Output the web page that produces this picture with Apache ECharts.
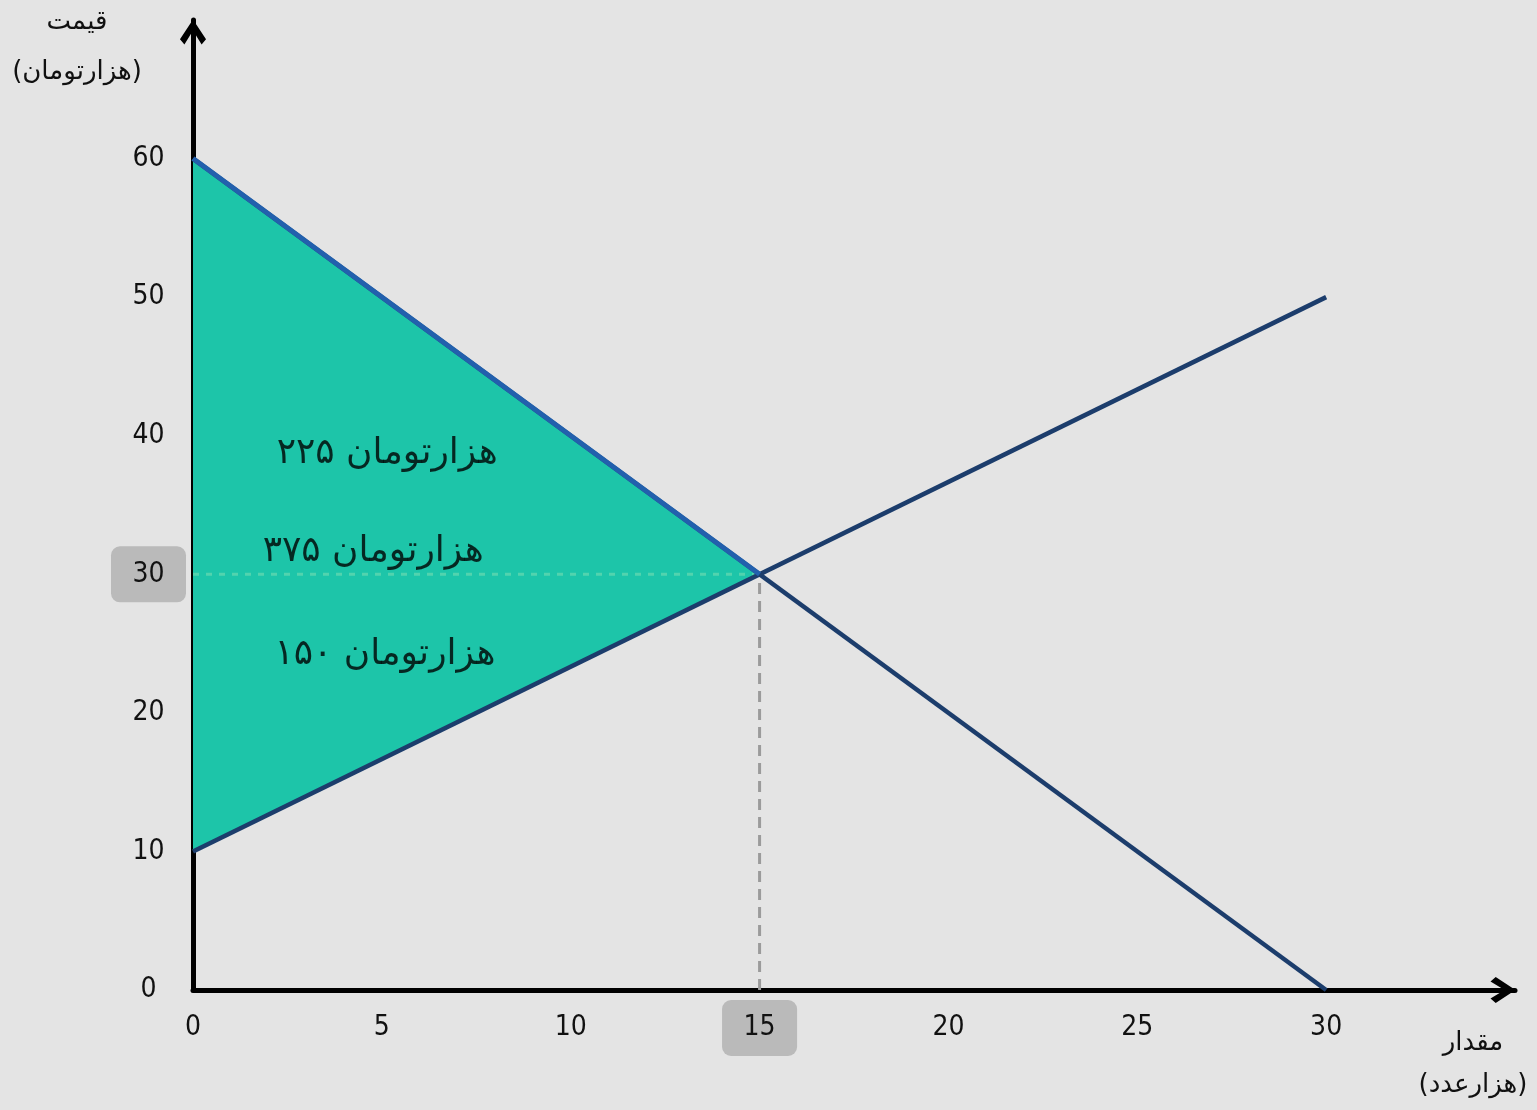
<!DOCTYPE html>
<html>
<head>
<meta charset="utf-8">
<title>مازاد مصرف‌کننده و تولیدکننده</title>
<script src="https://cdn.jsdelivr.net/npm/echarts@6/dist/echarts.min.js"></script>
<style>
  html, body { margin: 0; padding: 0; background: #e4e4e4; }
  #chart { width: 1537px; height: 1110px; }
</style>
</head>
<body>
<div id="chart"></div>
<script>
// داده‌ها
var demandQ = [0, 30];
var demandP = [60, 0];
var supplyQ = [0, 30];
var supplyP = [10, 50];
var eqQ = 15;
var eqP = 30;
// رئوس مثلث مازاد (مصرف‌کننده + تولیدکننده)
var surplusQ = [0, 15, 0];
var surplusP = [60, 30, 10];
// برچسب‌های داخل مثلث
var noteText = ['۲۲۵ هزارتومان', '۳۷۵ هزارتومان', '۱۵۰ هزارتومان'];
var noteQ = [5.14, 4.77, 5.08];
var noteP = [38.7, 31.6, 24.2];
var xTickMax = 30;
var yTickMax = 60;

var numFont = '"Liberation Sans Narrow", "DejaVu Sans Condensed", sans-serif';
var faFont = '"DejaVu Sans", sans-serif';
var chevron = 'path://M50,0 L100,76 L83,96 L50,42 L17,96 L0,76 Z';

function pairs(xs, ys) {
  return xs.map(function (x, i) { return [x, ys[i]]; });
}

function tickRich() {
  var base = { width: 75, height: 56, align: 'center', verticalAlign: 'middle',
    fontSize: 28, fontFamily: numFont, color: '#111' };
  return {
    n: base,
    h: Object.assign({}, base, { backgroundColor: '#bababa', borderRadius: 9 })
  };
}

function axisText(txt, x, y) {
  return { type: 'text', x: x, y: y,
    style: { text: txt, align: 'center', verticalAlign: 'middle', font: '26px ' + faFont, fill: '#111' } };
}

var chart = echarts.init(document.getElementById('chart'));

var option = {
  backgroundColor: '#e4e4e4',
  animation: false,
  grid: { left: 193, right: 22, top: 20, bottom: 120 },
  xAxis: {
    type: 'value', min: 0, max: 35, interval: 5,
    splitLine: { show: false },
    axisTick: { show: false },
    axisLine: {
      lineStyle: { color: '#000', width: 5 },
      symbol: ['none', chevron],
      symbolSize: [27, 25],
      symbolOffset: [0, -12]
    },
    axisLabel: {
      margin: 10,
      formatter: function (v) {
        if (v > xTickMax) return '';
        return (v === eqQ ? '{h|' : '{n|') + v + '}';
      },
      rich: tickRich()
    }
  },
  yAxis: {
    type: 'value', min: 0, max: 70, interval: 10,
    splitLine: { show: false },
    axisTick: { show: false },
    axisLine: {
      lineStyle: { color: '#000', width: 5 },
      symbol: ['none', chevron],
      symbolSize: [27, 25],
      symbolOffset: [0, -12]
    },
    axisLabel: {
      margin: 7,
      formatter: function (v) {
        if (v > yTickMax) return '';
        return (v === eqP ? '{h|' : '{n|') + v + '}';
      },
      rich: tickRich()
    }
  },
  graphic: [
    axisText('قیمت', 77, 22),
    axisText('(هزارتومان)', 77, 72),
    axisText('مقدار', 1473, 1043),
    axisText('(هزارعدد)', 1473, 1085)
  ],
  series: [
    {
      type: 'custom',
      z: 1,
      silent: true,
      data: pairs(surplusQ, surplusP),
      renderItem: function (params, api) {
        if (params.dataIndex !== 0) return;
        var pts = surplusQ.map(function (q, i) { return api.coord([q, surplusP[i]]); });
        return { type: 'polygon', shape: { points: pts }, style: { fill: '#1dc5a9' } };
      }
    },
    {
      type: 'line', z: 2, symbol: 'none',
      data: [[0, eqP], [eqQ, eqP]],
      lineStyle: { color: '#52d3ae', width: 3, type: [6, 7] }
    },
    {
      type: 'line', z: 2, symbol: 'none',
      data: [[eqQ, 0], [eqQ, eqP]],
      lineStyle: { color: '#9b9b9b', width: 3, type: [11, 7] }
    },
    {
      type: 'line', z: 3, symbol: 'none',
      data: pairs(demandQ, demandP),
      lineStyle: { color: '#1c3d6c', width: 4.5 }
    },
    {
      type: 'line', z: 3, symbol: 'none',
      data: pairs(supplyQ, supplyP),
      lineStyle: { color: '#1c3d6c', width: 4.5 }
    },
    {
      type: 'line', z: 4, symbol: 'none',
      data: [[demandQ[0], demandP[0]], [eqQ, eqP]],
      lineStyle: { color: '#2260ad', width: 5 }
    },
    {
      type: 'scatter', z: 5, symbolSize: 0,
      data: noteText.map(function (t, i) { return { name: t, value: [noteQ[i], noteP[i]] }; }),
      label: {
        show: true, position: 'inside',
        formatter: function (p) { return p.name; },
        fontSize: 36, fontFamily: faFont, color: '#000'
      }
    }
  ]
};

chart.setOption(option);
</script>
</body>
</html>
